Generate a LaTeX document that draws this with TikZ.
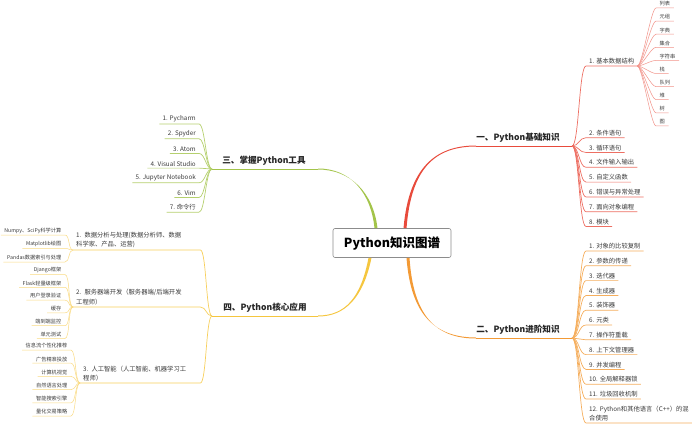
\documentclass[tikz,border=0pt]{standalone}
\usepackage{fontspec}
\setmainfont{Noto Sans CJK SC}
\definecolor{redb}{HTML}{E84B3C}
\definecolor{orangeb}{HTML}{F39A35}
\definecolor{greenb}{HTML}{A3C44A}
\definecolor{yellowb}{HTML}{F5C63F}
\definecolor{txt}{HTML}{3A3A3A}
% tapered main branch: colour, start, control 1, control 2, end
\newcommand{\branchcurve}[5]{%
	\fill[#1] ([xshift=-1.5pt]#2) .. controls ([xshift=-1.2pt]#3) and ([yshift=0.5pt]#4) .. ([yshift=0.5pt]#5)
		-- ([yshift=-0.5pt]#5) .. controls ([yshift=-0.5pt]#4) and ([xshift=1.2pt]#3) .. ([xshift=1.5pt]#2) -- cycle;}
\begin{document}
\begin{tikzpicture}[x=1pt,y=-1pt,
	topic/.style={inner sep=0pt,font=\fontsize{8.6}{10}\selectfont\bfseries,text=black!85},
	sub/.style={inner xsep=3pt,inner ysep=1.6pt,font=\fontsize{6.3}{9.6}\selectfont,text=txt},
	leaf/.style={inner xsep=3.5pt,inner ysep=1.5pt,font=\fontsize{5.2}{6}\selectfont,text=txt},
	mainline/.style={line width=1pt},
	subline/.style={line width=0.7pt},
	leafline/.style={line width=0.5pt}]
	\useasboundingbox (0,0) rectangle (700,425);
	\node[draw=black!45,line width=0.6pt,rounded corners=2pt,fill=white,minimum width=118pt,minimum height=29pt,font=\fontsize{12.5}{14}\selectfont\bfseries] (root) at (392,243) {Python知识图谱};
	% 一
	\coordinate (s1) at ([xshift=13pt]root.north);
	\coordinate (e1) at (476,146);
	\coordinate (h1) at (572,146);
	\node[topic,anchor=south] (t1) at (518,143) {一、Python基础知识};
	\branchcurve{redb}{s1}{410,168}{435,146}{e1}
	\draw[redb,mainline] (e1) -- (h1);
	\node[sub,anchor=south west] (r1) at (586,66) {1. 基本数据结构};
	\draw[redb!80,subline] (h1) .. controls +(7,0) and +(-7,0) .. (r1.south west) -- (r1.south east);
	\foreach \t [count=\i from 2] in {条件语句,循环语句,文件输入输出,自定义函数,错误与异常处理,面向对象编程,模块} {
		\node[sub,anchor=south west] (r\i) at (586,{137.7+14.8*(\i-2)}) {\i. \t};
		\draw[redb!80,subline] (h1) .. controls +(7,0) and +(-7,0) .. (r\i.south west) -- (r\i.south east);
	}
	\foreach \t [count=\i] in {列表,元组,字典,集合,字符串,栈,队列,堆,树,图} {
		\node[leaf,anchor=south west] (d\i) at (656,{8+13.1*(\i-1)}) {\t};
		\draw[redb!60,leafline] (r1.south east) .. controls +(5,0) and +(-5,0) .. (d\i.south west) -- (d\i.south east);
	}
	% 二
	\coordinate (s2) at ([xshift=16pt]root.south);
	\coordinate (e2) at (476,338);
	\coordinate (h2) at (572,338);
	\node[topic,anchor=south] (t2) at (518,335) {二、Python进阶知识};
	\branchcurve{orangeb}{s2}{412,315}{435,338}{e2}
	\draw[orangeb,mainline] (e2) -- (h2);
	\foreach \t [count=\i] in {对象的比较复制,参数的传递,迭代器,生成器,装饰器,元类,操作符重载,上下文管理器,并发编程,全局解释器锁,垃圾回收机制} {
		\node[sub,anchor=south west] (o\i) at (586,{251+14.8*(\i-1)}) {\i. \t};
		\draw[orangeb!80,subline] (h2) .. controls +(7,0) and +(-7,0) .. (o\i.south west) -- (o\i.south east);
	}
	\node[sub,anchor=south west,align=left] (o12) at (586,423) {12. Python和其他语言（C++）的混\\合使用};
	\draw[orangeb!80,subline] (h2) .. controls +(7,0) and +(-7,0) .. (o12.south west) -- (o12.south east);
	% 三
	\coordinate (s3) at ([xshift=-16pt]root.north);
	\coordinate (e3) at (318,169);
	\coordinate (h3) at (212,169);
	\node[topic,anchor=south] (t3) at (264,166) {三、掌握Python工具};
	\branchcurve{greenb}{s3}{372,192}{350,169}{e3}
	\draw[greenb,mainline] (e3) -- (h3);
	\foreach \t [count=\i] in {Pycharm,Spyder,Atom,Visual Studio,Jupyter Notebook,Vim,命令行} {
		\node[sub,anchor=south east] (g\i) at (199,{124+14.7*(\i-1)}) {\i. \t};
		\draw[greenb!80,subline] (h3) .. controls +(-6,0) and +(6,0) .. (g\i.south east) -- (g\i.south west);
	}
	% 四
	\coordinate (s4) at ([xshift=-22pt]root.south);
	\coordinate (e4) at (318,316);
	\coordinate (h4) at (212,316);
	\node[topic,anchor=south] (t4) at (265,313) {四、Python核心应用};
	\branchcurve{yellowb}{s4}{362,298}{345,316}{e4}
	\draw[yellowb,mainline] (e4) -- (h4);
	\node[sub,anchor=south west,align=left,text width=121pt] (y1) at (73,250) {1. 数据分析与处理(数据分析师、数据\\科学家、产品、运营)};
	\node[sub,anchor=south west,align=left,text width=121pt] (y2) at (73,307) {2. 服务器端开发（服务器端/后端开发\\工程师）};
	\node[sub,anchor=south west,align=left,text width=114pt] (y3) at (80,383) {3. 人工智能（人工智能、机器学习工\\程师）};
	\foreach \n in {y1,y2,y3}
		\draw[yellowb!85,subline] (h4) .. controls +(-6,0) and +(6,0) .. (\n.south east) -- (\n.south west);
	\foreach \t [count=\i] in {Numpy、SciPy科学计算,Matplotlib绘图,Pandas数据索引与处理} {
		\node[leaf,anchor=south east] (ya\i) at (65,{235+13.5*(\i-1)}) {\t};
		\draw[yellowb!65,leafline] (y1.south west) .. controls +(-5,0) and +(5,0) .. (ya\i.south east) -- (ya\i.south west);
	}
	\foreach \t [count=\i] in {Django框架,Flask轻量级框架,用户登录验证,缓存,端到端监控,单元测试} {
		\node[leaf,anchor=south east] (yb\i) at (65,{274.5+12.8*(\i-1)}) {\t};
		\draw[yellowb!65,leafline] (y2.south west) .. controls +(-5,0) and +(5,0) .. (yb\i.south east) -- (yb\i.south west);
	}
	\foreach \t [count=\i] in {信息流个性化推荐,广告精准投放,计算机视觉,自然语言处理,智能搜索引擎,量化交易策略} {
		\node[leaf,anchor=south east] (yc\i) at (71,{350+13.2*(\i-1)}) {\t};
		\draw[yellowb!65,leafline] (y3.south west) .. controls +(-5,0) and +(5,0) .. (yc\i.south east) -- (yc\i.south west);
	}
\end{tikzpicture}
\end{document}
